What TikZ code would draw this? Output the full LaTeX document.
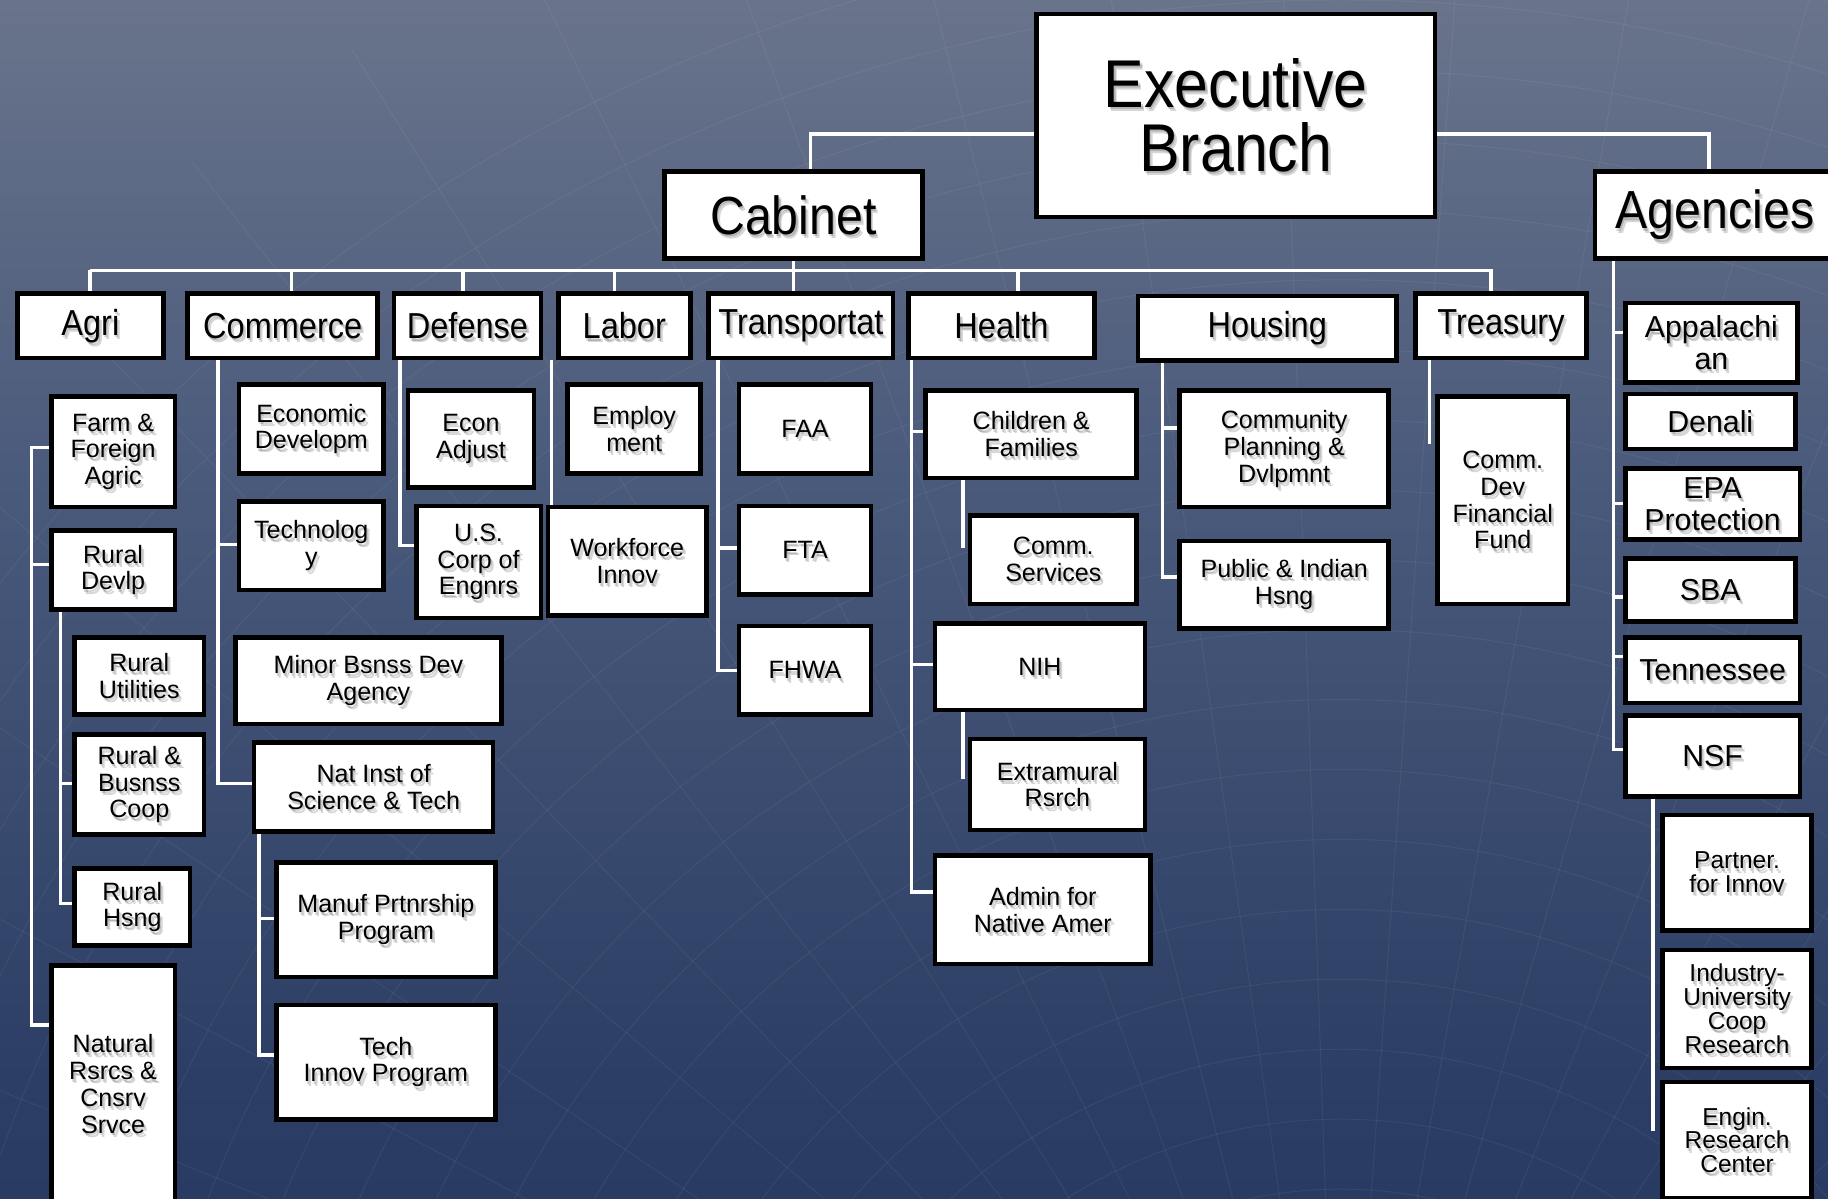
\documentclass[tikz,border=0pt]{standalone}
\usepackage{fontspec}
\setmainfont{Liberation Sans}
\newfontfamily\narrowsans[FakeStretch=0.9]{Liberation Sans}
\usepackage{tikz}
\usepackage{xcolor}

\definecolor{bgtop}{HTML}{959AA6}
\definecolor{bgupper}{HTML}{6E788E}
\definecolor{bgmid}{HTML}{4A5A7B}
\definecolor{bglow}{HTML}{2C3E65}
\definecolor{bgbot}{HTML}{1E2C55}
\pgfdeclareverticalshading{bgfade}{100bp}{color(0bp)=(bgbot); color(30bp)=(bglow); color(55bp)=(bgmid); color(78bp)=(bgupper); color(100bp)=(bgtop)}

\tikzset{
    box/.style={draw=black, fill=white, line width=4pt, inner sep=0pt},
    link/.style={draw=white, line width=3pt},
    boxtext/.style={align=center, text=black, inner sep=0pt},
    boxshadow/.style={align=center, text=black, text opacity=0.16, inner sep=0pt},
    headfont/.style={font=\narrowsans\fontsize{58}{55}\selectfont},
    groupfont/.style={font=\narrowsans\fontsize{46}{46}\selectfont},
    deptfont/.style={font=\narrowsans\fontsize{31}{31}\selectfont},
    subfont/.style={font=\fontsize{21.5}{23}\selectfont},
    agencyfont/.style={font=\fontsize{26}{27}\selectfont},
    nsffont/.style={font=\fontsize{21}{20.5}\selectfont}
}

% box with soft-shadowed text: name, centre, width, height, font style, text
\newcommand{\orgbox}[6]{%
    \node[box, minimum width=#3, minimum height=#4] (#1) at (#2) {};
    \node[boxshadow, #5] (#1-s) at ([shift={(1,2)}]#1.center) {#6};
    \node[boxshadow, #5] (#1-r) at ([shift={(2.5,3.5)}]#1.center) {#6};
    \node[boxtext, #5] (#1-t) at (#1.center) {#6};
}

\begin{document}
\begin{tikzpicture}[x=1pt, y=-1pt]
    \useasboundingbox (0,0) rectangle (1568,1028);
    \clip (0,0) rectangle (1568,1028);

    % Background
    \shade[shading=bgfade] (0,0) rectangle (1568,1028);
    \begin{scope}[white, opacity=0.06, line width=0.8pt]
        \foreach \r in {260,320,...,1500}
            \draw (1150,1400) circle (\r);
        \foreach \a in {190,196,...,350}
            \draw (1150,1400) -- ++(\a:1600);
    \end{scope}

    % Top level
    \orgbox{exec}{1060,99}{342}{174}{headfont}{Executive\\Branch}
    \orgbox{cabinet}{680.5,184.5}{221}{75}{groupfont}{Cabinet}
    \orgbox{agencies}{1471,184.5}{206}{75}{groupfont}{Agencies}

    % Departments
    \orgbox{agri}{77.5,279.5}{125}{55}{deptfont}{Agri}
    \orgbox{commerce}{242.5,279.5}{163}{55}{deptfont}{Commerce}
    \orgbox{defense}{401,279.5}{126}{55}{deptfont}{Defense}
    \orgbox{labor}{535.5,279.5}{113}{55}{deptfont}{Labor}
    \orgbox{transport}{687,279.5}{158}{55}{deptfont}{Transportat}
    \orgbox{health}{859,279.5}{160}{55}{deptfont}{Health}
    \orgbox{housing}{1087,281.5}{222}{55}{deptfont}{Housing}
    \orgbox{treasury}{1287.5,279.5}{147}{55}{deptfont}{Treasury}

    % Agriculture
    \orgbox{farm}{97,387.5}{106}{95}{subfont}{Farm \&\\Foreign\\Agric}
    \orgbox{ruraldev}{97,489}{106}{68}{subfont}{Rural\\Devlp}
    \orgbox{ruralutil}{119.5,580}{111}{66}{subfont}{Rural\\Utilities}
    \orgbox{ruralcoop}{119.5,673}{111}{86}{subfont}{Rural \&\\Busnss\\Coop}
    \orgbox{ruralhsng}{113.5,778}{99}{66}{subfont}{Rural\\Hsng}
    \orgbox{natural}{97,930}{106}{204}{subfont}{Natural\\Rsrcs \&\\Cnsrv\\Srvce}

    % Commerce
    \orgbox{econdev}{267,368}{124}{76}{subfont}{Economic\\Developm}
    \orgbox{technology}{267,468}{124}{76}{subfont}{Technolog\\y}
    \orgbox{minority}{316,584}{228}{74}{subfont}{Minor Bsnss Dev\\Agency}
    \orgbox{nist}{320.5,675}{205}{76}{subfont}{Nat Inst of\\Science \& Tech}
    \orgbox{manuf}{331,789}{188}{98}{subfont}{Manuf Prtnrship\\Program}
    \orgbox{techinnov}{331,911}{188}{98}{subfont}{Tech\\Innov Program}

    % Defense and Labor
    \orgbox{econadj}{404,376.5}{108}{83}{subfont}{Econ\\Adjust}
    \orgbox{corps}{410.5,482}{107}{96}{subfont}{U.S.\\Corp of\\Engnrs}
    \orgbox{employ}{544,368}{114}{76}{subfont}{Employ\\ment}
    \orgbox{workforce}{538,481.5}{136}{93}{subfont}{Workforce\\Innov}

    % Transportation
    \orgbox{faa}{690.5,368}{113}{76}{subfont}{FAA}
    \orgbox{fta}{690.5,472}{113}{76}{subfont}{FTA}
    \orgbox{fhwa}{690.5,575}{113}{76}{subfont}{FHWA}

    % Health
    \orgbox{children}{884.5,372.5}{181}{75}{subfont}{Children \&\\Families}
    \orgbox{commsvc}{903.5,480}{143}{76}{subfont}{Comm.\\Services}
    \orgbox{nih}{892,572}{180}{74}{subfont}{NIH}
    \orgbox{extramural}{907,673}{150}{78}{subfont}{Extramural\\Rsrch}
    \orgbox{admin}{894.5,780.5}{185}{93}{subfont}{Admin for\\Native Amer}

    % Housing and Treasury
    \orgbox{complan}{1101.5,385}{179}{100}{subfont}{Community\\Planning \&\\Dvlpmnt}
    \orgbox{publicind}{1101.5,501.5}{179}{75}{subfont}{Public \& Indian\\Hsng}
    \orgbox{cdfi}{1289,429}{112}{178}{subfont}{Comm.\\Dev\\Financial\\Fund}

    % Agencies
    \orgbox{appal}{1468,294}{148}{68}{agencyfont}{Appalachi\\an}
    \orgbox{denali}{1467,361.5}{146}{47}{agencyfont}{Denali}
    \orgbox{epa}{1469,432.5}{150}{61}{agencyfont}{EPA\\Protection}
    \orgbox{sba}{1467,506}{146}{54}{agencyfont}{SBA}
    \orgbox{tenn}{1469,575}{150}{56}{agencyfont}{Tennessee}
    \orgbox{nsf}{1469,648.5}{150}{69}{agencyfont}{NSF}
    \orgbox{partner}{1490,748.5}{128}{99}{nsffont}{Partner.\\for Innov}
    \orgbox{iucrc}{1490,865.5}{128}{101}{nsffont}{Industry-\\University\\Coop\\Research}
    \orgbox{erc}{1490,978}{128}{100}{nsffont}{Engin.\\Research\\Center}

    % Executive links
    \draw[link] (exec.west |- 0,115) -| (cabinet.north -| 695,0);
    \draw[link] (exec.east |- 0,115) -| (agencies.north -| 1466,0);

    % Cabinet bus
    \draw[link] (cabinet.south) -- (cabinet.south |- transport.north);
    \draw[link] (77,232) -- (1279,232) -- (treasury.north -| 1279,0);
    \foreach \n/\x in {agri/77, commerce/250, defense/397, labor/527, health/873}
        \draw[link] (\x,232) -- (\n.north -| \x,0);

    % Agriculture links
    \draw[link] (farm.west |- 0,384) -| (27,879) -- (natural.west |- 0,879);
    \draw[link] (27,484) -- (ruraldev.west |- 0,484);
    \draw[link] (ruraldev.south -| 52,0) |- (ruralhsng.west |- 0,775);
    \draw[link] (52,672) -- (ruralcoop.west |- 0,672);

    % Commerce links
    \draw[link] (commerce.south -| 187,0) |- (nist.west |- 0,672);
    \draw[link] (187,467) -- (technology.west |- 0,467);
    \draw[link] (nist.south -| 222,0) |- (techinnov.west |- 0,905);
    \draw[link] (222,788) -- (manuf.west |- 0,788);

    % Defense, Labor, Transportation links
    \draw[link] (defense.south -| 343,0) |- (corps.west |- 0,468);
    \draw[link] (labor.south -| 473,0) -- (workforce.north -| 473,0);
    \draw[link] (transport.south -| 616,0) |- (fhwa.west |- 0,575);
    \draw[link] (616,470) -- (fta.west |- 0,470);

    % Health links
    \draw[link] (health.south -| 782,0) |- (admin.west |- 0,765);
    \draw[link] (782,370) -- (children.west |- 0,370);
    \draw[link] (782,570) -- (nih.west |- 0,570);
    \draw[link] (children.south -| 826,0) -- (826,470);
    \draw[link] (nih.south -| 826,0) -- (826,668);

    % Housing and Treasury links
    \draw[link] (housing.south -| 997,0) |- (publicind.west |- 0,495);
    \draw[link] (997,367) -- (complan.west |- 0,367);
    \draw[link] (treasury.south -| 1226,0) -- (1226,381);

    % Agency links
    \draw[link] (agencies.south -| 1384,0) |- (nsf.west |- 0,643);
    \foreach \n/\y in {appal/285, epa/432, sba/512, tenn/563}
        \draw[link] (1384,\y) -- (\n.west |- 0,\y);
    \draw[link] (nsf.south -| 1418,0) -- (1418,970);
\end{tikzpicture}
\end{document}
